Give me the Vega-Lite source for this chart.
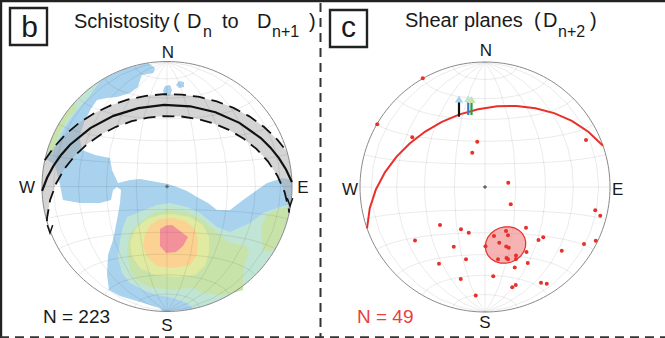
{
"$schema":"https://vega.github.io/schema/vega-lite/v6.json",
"width":665,"height":338,"padding":0,"autosize":{"type":"none"},
"background":"white",
"config":{"view":{"stroke":null}},
"layer":[
{"data":{"values":[
{"type":"Feature","properties":{"level":"1"},"geometry":{"type":"Polygon","coordinates":[[[-15.1,98.9],[-34.2,94.0],[-50,86.6],[-64.3,76.6],[-76.6,64.3],[-86.6,50],[-94.0,34.2],[-97.4,22.5],[-89.6,17.2],[-85.6,1.2],[-83.2,-10.8],[-69.6,-13.2],[-53.6,-13.2],[-44.8,-10.8],[-43.2,-2.8],[-40,-0.4],[-36.8,-2.8],[-37.6,-13.2],[-40,-26.8],[-43.2,-42.8],[-47.2,-54.8],[-48,-70.8],[-46.4,-82.8],[-37.6,-87.6],[-21.6,-92.4],[-5.6,-97.2],[-3.5,-99.9],[17.4,-98.5],[34.2,-94.0],[50,-86.6],[64.3,-76.6],[76.6,-64.3],[86.6,-50],[94.0,-34.2],[98.5,-17.4],[100,0],[99.9,5.2],[92.8,6.8],[80,2.8],[72,-2.8],[60.8,-10.8],[50.4,-18.8],[40,-18.8],[32.8,-13.2],[24,-8.4],[16,-3.6],[8,-0.4],[0.8,2],[-8,3.6],[-21.6,6],[-29.6,5.2],[-39.2,2.8],[-44,13.2],[-45.6,22.8],[-57.6,25.2],[-68,29.2],[-70,40],[-66,52],[-61,62],[-56,69.2],[-48,70.8],[-40,71.6],[-29.6,74.8],[-23.2,79.6],[-21.6,85.2],[-20,89.2],[-11.2,90.8],[-9.6,94.8],[-15.1,98.9]]]}},
{"type":"Feature","properties":{"level":"1"},"geometry":{"type":"Polygon","coordinates":[[[7.2,81.2],[9.6,84.4],[13.6,83.6],[13.6,79.6],[9.6,78.8],[7.2,81.2]]]}},
{"type":"Feature","properties":{"level":"1"},"geometry":{"type":"Polygon","coordinates":[[[-3.2,76.4],[-1.6,80.4],[2.4,81.2],[4,77.2],[2.4,72.4],[-1.6,72.4],[-3.2,76.4]]]}},
{"type":"Feature","properties":{"level":"2"},"geometry":{"type":"Polygon","coordinates":[[[-32,-24.4],[-24,-21.2],[-8,-14.8],[2.4,-13.2],[16,-16.4],[26.4,-21.2],[40,-32.4],[50.4,-36.4],[66.4,-29.2],[76.8,-21.2],[90.4,-16.4],[99.0,-13.9],[94.0,-34.2],[86.6,-50],[76.6,-64.3],[64.3,-76.6],[50,-86.6],[34.2,-94.0],[20.8,-97.8],[16,-93.2],[4.8,-89.2],[-8,-86.8],[-19.2,-82.8],[-29.6,-77.2],[-36,-69.2],[-39.2,-56.4],[-37.6,-42.8],[-35.2,-32.4],[-32,-24.4]]]}},
{"type":"Feature","properties":{"level":"2"},"geometry":{"type":"Polygon","coordinates":[[[-53.0,84.8],[-64.3,76.6],[-76.6,64.3],[-86.6,50],[-94.0,34.2],[-97.0,24.2],[-92,23],[-89,33],[-82,47],[-73,60],[-63,71],[-53.0,84.8]]]}},
{"type":"Feature","properties":{"level":"3"},"geometry":{"type":"Polygon","coordinates":[[[-74.3,66.9],[-81.9,57.4],[-90.6,42.3],[-95.6,29.2],[-92,28],[-87,40],[-80,54],[-72,63],[-74.3,66.9]]]}},
{"type":"Feature","properties":{"level":"3"},"geometry":{"type":"Polygon","coordinates":[[[-32,-50.8],[-29.6,-37.2],[-21.6,-29.2],[-11.2,-21.2],[2.4,-18],[16,-20.4],[28.8,-26.8],[40,-36.4],[48.8,-44.4],[56,-46],[63.2,-47.6],[65.6,-53.2],[62.4,-60.4],[60.8,-70.8],[60.8,-82.8],[50.4,-86],[40,-86.8],[28.8,-85.2],[20.8,-81.2],[2.4,-82.8],[-13.6,-80.4],[-24,-75.6],[-29.6,-66.8],[-32,-50.8]]]}},
{"type":"Feature","properties":{"level":"3"},"geometry":{"type":"Polygon","coordinates":[[[76.8,-50.8],[75.2,-34.8],[79.2,-22.8],[88.8,-18],[98.6,-16.5],[94,-34.2],[88.3,-46.9],[82.4,-52.4],[76.8,-50.8]]]}},
{"type":"Feature","properties":{"level":"4"},"geometry":{"type":"Polygon","coordinates":[[[-29.6,-44.4],[-24.8,-33.2],[-16,-26],[-5.6,-22.8],[4,-22],[18.4,-24.4],[28.8,-30.8],[33.6,-40.4],[33.6,-52.4],[30.4,-63.6],[22.4,-70.8],[6.4,-72.4],[-9.6,-70.8],[-21.6,-65.2],[-28,-55.6],[-29.6,-44.4]]]}},
{"type":"Feature","properties":{"level":"5"},"geometry":{"type":"Polygon","coordinates":[[[-17.6,-38.8],[-13.6,-30.8],[-5.6,-26],[4,-25.2],[14.4,-27.6],[22.4,-34],[24.8,-42.8],[24,-54.8],[18.4,-62.8],[4.8,-65.2],[-8,-63.6],[-16,-56.4],[-19.2,-46.8],[-17.6,-38.8]]]}},
{"type":"Feature","properties":{"level":"6"},"geometry":{"type":"Polygon","coordinates":[[[-5.6,-34],[-0.8,-31.2],[4,-30.8],[16.8,-40.4],[12.8,-47.6],[7.2,-52.4],[-0.8,-53.2],[-5.6,-47.6],[-5.6,-34]]]}}
]},
"mark":{"type":"geoshape","strokeWidth":0},
"projection":{"type":"identity","scale":1.25,"translate":[167,186.5],"reflectY":true},
"encoding":{"color":{"field":"properties.level","type":"nominal","scale":{"domain":["1","2","3","4","5","6"],"range":["#a9d2ee","#c0e5d4","#c8e3a9","#e0eaa0","#fbd291","#f3919b"]},"legend":null}}},

{"data":{"values":[{"type":"Feature","properties":{},"geometry":{"type":"Polygon","coordinates":[[[-120,8],[-110,8],[-100,8],[-90,8],[-80,8],[-70,8],[-60,8],[-50,8],[-40,8],[-30,8],[-20,8],[-10,8],[0,8],[10,8],[20,8],[30,8],[40,8],[50,8],[60,8],[70,8],[80,8],[90,8],[100,8],[110,8],[120,8],[120,-8],[110,-8],[100,-8],[90,-8],[80,-8],[70,-8],[60,-8],[50,-8],[40,-8],[30,-8],[20,-8],[10,-8],[0,-8],[-10,-8],[-20,-8],[-30,-8],[-40,-8],[-50,-8],[-60,-8],[-70,-8],[-80,-8],[-90,-8],[-100,-8],[-110,-8],[-120,-8],[-120,8]]]}}]},
"mark":{"type":"geoshape","fill":"#aaaaaa","fillOpacity":0.5,"strokeWidth":0},
"projection":{"type":"azimuthalEqualArea","scale":88.39,"translate":[167,186.5],"clipAngle":90,"rotate":[0,55,2]}},

{"data":{"graticule":{"stepMinor":[20,15],"extentMinor":[[-180,-89.999],[180,89.999]]}},
"mark":{"type":"geoshape","filled":false,"stroke":"#000000","strokeOpacity":0.12,"strokeWidth":0.7},
"projection":{"type":"azimuthalEqualArea","scale":88.39,"translate":[167,186.5],"clipAngle":90}},

{"data":{"sphere":true},
"mark":{"type":"geoshape","filled":false,"stroke":"#8a8a8a","strokeWidth":1},
"projection":{"type":"azimuthalEqualArea","scale":88.39,"translate":[167,186.5],"clipAngle":90}},

{"data":{"values":[{"type":"Feature","properties":{},"geometry":{"type":"LineString","coordinates":[[-120,0],[-90,0],[-60,0],[-30,0],[0,0],[30,0],[60,0],[90,0],[120,0]]}}]},
"mark":{"type":"geoshape","filled":false,"stroke":"#111111","strokeWidth":2.2},
"projection":{"type":"azimuthalEqualArea","scale":88.39,"translate":[167,186.5],"clipAngle":90,"rotate":[0,55,2]}},

{"data":{"values":[
{"type":"Feature","properties":{},"geometry":{"type":"LineString","coordinates":[[-120,8],[-110,8],[-100,8],[-90,8],[-80,8],[-70,8],[-60,8],[-50,8],[-40,8],[-30,8],[-20,8],[-10,8],[0,8],[10,8],[20,8],[30,8],[40,8],[50,8],[60,8],[70,8],[80,8],[90,8],[100,8],[110,8],[120,8]]}},
{"type":"Feature","properties":{},"geometry":{"type":"LineString","coordinates":[[-120,-8],[-110,-8],[-100,-8],[-90,-8],[-80,-8],[-70,-8],[-60,-8],[-50,-8],[-40,-8],[-30,-8],[-20,-8],[-10,-8],[0,-8],[10,-8],[20,-8],[30,-8],[40,-8],[50,-8],[60,-8],[70,-8],[80,-8],[90,-8],[100,-8],[110,-8],[120,-8]]}}
]},
"mark":{"type":"geoshape","filled":false,"stroke":"#111111","strokeWidth":1.8,"strokeDash":[12,7]},
"projection":{"type":"azimuthalEqualArea","scale":88.39,"translate":[167,186.5],"clipAngle":90,"rotate":[0,55,2]}},

{"data":{"values":[{"u":-93.6,"v":-34},{"u":98.4,"v":-12.4}]},
"mark":{"type":"point","shape":"M-0.7,-1L0,1L0.7,-1","filled":false,"stroke":"#111111","strokeWidth":1.5,"size":60,"opacity":1},
"projection":{"type":"identity","scale":1.25,"translate":[167,186.5],"reflectY":true},
"encoding":{"longitude":{"field":"u","type":"quantitative"},"latitude":{"field":"v","type":"quantitative"}}},

{"data":{"values":[{"u":0,"v":0},{"u":254.4,"v":-0.4}]},
"mark":{"type":"point","shape":"cross","filled":true,"color":"#666666","size":14,"opacity":1},
"projection":{"type":"identity","scale":1.25,"translate":[167,186.5],"reflectY":true},
"encoding":{"longitude":{"field":"u","type":"quantitative"},"latitude":{"field":"v","type":"quantitative"}}},

{"data":{"graticule":{"stepMinor":[20,15],"extentMinor":[[-180,-89.999],[180,89.999]]}},
"mark":{"type":"geoshape","filled":false,"stroke":"#000000","strokeOpacity":0.12,"strokeWidth":0.7},
"projection":{"type":"azimuthalEqualArea","scale":88.39,"translate":[485,187],"clipAngle":90}},

{"data":{"sphere":true},
"mark":{"type":"geoshape","filled":false,"stroke":"#8a8a8a","strokeWidth":1},
"projection":{"type":"azimuthalEqualArea","scale":88.39,"translate":[485,187],"clipAngle":90}},

{"data":{"values":[{"type":"Feature","properties":{},"geometry":{"type":"Polygon","coordinates":[[[-180,-77.5],[-165,-77.5],[-150,-77.5],[-135,-77.5],[-120,-77.5],[-105,-77.5],[-90,-77.5],[-75,-77.5],[-60,-77.5],[-45,-77.5],[-30,-77.5],[-15,-77.5],[0,-77.5],[15,-77.5],[30,-77.5],[45,-77.5],[60,-77.5],[75,-77.5],[90,-77.5],[105,-77.5],[120,-77.5],[135,-77.5],[150,-77.5],[165,-77.5],[180,-77.5]]]}}]},
"mark":{"type":"geoshape","fill":"#f08a8a","fillOpacity":0.65,"stroke":"#e8302b","strokeWidth":1.2},
"projection":{"type":"azimuthalEqualArea","scale":88.39,"translate":[485,187],"clipAngle":90,"rotate":[0,49,19.5]}},

{"data":{"values":[{"type":"Feature","properties":{},"geometry":{"type":"LineString","coordinates":[[157.4,-47.7],[-90,-19.3],[-22.6,47.7],[90,19.3],[157.4,-47.7]]}}]},
"mark":{"type":"geoshape","filled":false,"stroke":"#e8302b","strokeWidth":2},
"projection":{"type":"azimuthalEqualArea","scale":88.39,"translate":[485,187],"clipAngle":90}},

{"data":{"values":[
{"u":-49.8,"v":87.0},{"u":-86.2,"v":50.2},{"u":-58.2,"v":39.8},{"u":-6.2,"v":36.2},{"u":-10.2,"v":27.4},{"u":80.8,"v":37.6},{"u":18.6,"v":3.4},{"u":20.6,"v":-13.8},{"u":88.2,"v":-18.6},{"u":92.2,"v":-23.0},
{"u":-36.0,"v":-30.4},{"u":-19.2,"v":-33.8},{"u":-13.0,"v":-36.6},{"u":32.8,"v":-32.6},{"u":-56.0,"v":-42.8},{"u":16.8,"v":-35.2},{"u":18.4,"v":-38.6},{"u":7.2,"v":-39.2},{"u":-25.0,"v":-47.8},{"u":0.4,"v":-47.4},
{"u":11.4,"v":-44.6},{"u":17.0,"v":-47.6},{"u":19.0,"v":-48.6},{"u":42.8,"v":-42.4},{"u":46.6,"v":-40.2},{"u":79.2,"v":-45.6},{"u":88.6,"v":-43.0},{"u":24.8,"v":-54.8},{"u":24.8,"v":-57.6},{"u":17.2,"v":-56.8},
{"u":18.4,"v":-57.8},{"u":10.4,"v":-57.8},{"u":33.2,"v":-52.0},{"u":34.2,"v":-60.8},{"u":-36.8,"v":-61.4},{"u":-15.2,"v":-57.8},{"u":23.8,"v":-64.4},{"u":61.4,"v":-51.0},{"u":-19.4,"v":-73.6},{"u":6.6,"v":-71.4},
{"u":24.6,"v":-78.4},{"u":21.8,"v":-80.2},{"u":44.8,"v":-76.6},{"u":49.4,"v":-77.4},{"u":-7.4,"v":-86.8}
]},
"mark":{"type":"point","shape":"circle","filled":true,"color":"#e8302b","size":16,"opacity":1},
"projection":{"type":"identity","scale":1.25,"translate":[485,187],"reflectY":true},
"encoding":{"longitude":{"field":"u","type":"quantitative"},"latitude":{"field":"v","type":"quantitative"}}},

{"data":{"values":[
{"type":"Feature","properties":{"k":"green"},"geometry":{"type":"LineString","coordinates":[[-10.8,57.6],[-10.8,69.5]]}},
{"type":"Feature","properties":{"k":"blue"},"geometry":{"type":"LineString","coordinates":[[-13.4,57.6],[-13.4,70]]}},
{"type":"Feature","properties":{"k":"black"},"geometry":{"type":"LineString","coordinates":[[-20.8,56.2],[-20.8,69.5]]}}
]},
"mark":{"type":"geoshape","filled":false,"strokeWidth":2.2},
"projection":{"type":"identity","scale":1.25,"translate":[485,187],"reflectY":true},
"encoding":{"stroke":{"field":"properties.k","type":"nominal","scale":{"domain":["black","blue","green"],"range":["#111111","#3d78c4","#2f9a45"]},"legend":null}}},

{"data":{"values":[{"k":"green","u":-10.8,"v":70.0},{"k":"blue","u":-13.4,"v":70.8},{"k":"black","u":-20.8,"v":70.4}]},
"mark":{"type":"point","shape":"triangle-up","filled":true,"size":70,"opacity":1},
"projection":{"type":"identity","scale":1.25,"translate":[485,187],"reflectY":true},
"encoding":{"longitude":{"field":"u","type":"quantitative"},"latitude":{"field":"v","type":"quantitative"},
"color":{"field":"k","type":"nominal","scale":{"domain":["black","blue","green"],"range":["#111111","#3d78c4","#2f9a45"]},"legend":null}}},

{"data":{"values":[{"u":-74.4,"v":126.8,"t":"Schistosity"},{"u":4.8,"v":126.8,"t":"("},{"u":16,"v":126.8,"t":"D"},{"u":44,"v":126.8,"t":"to"},{"u":72,"v":126.8,"t":"D"},{"u":113.6,"v":126.8,"t":")"},{"u":190.4,"v":127.4,"t":"Shear planes"},{"u":293.6,"v":127.4,"t":"("},{"u":300.8,"v":127.4,"t":"D"},{"u":338.4,"v":127.4,"t":")"}]},
"mark":{"type":"text","font":"Liberation Sans","fontSize":20,"align":"left","baseline":"alphabetic","color":"#1a1a1a"},
"projection":{"type":"identity","scale":1.25,"translate":[167,186.5],"reflectY":true},
"encoding":{"longitude":{"field":"u","type":"quantitative"},"latitude":{"field":"v","type":"quantitative"},"text":{"field":"t"}}},

{"data":{"values":[{"u":28.8,"v":119.6,"t":"n"},{"u":84,"v":119.6,"t":"n+1"},{"u":312.8,"v":119.4,"t":"n+2"}]},
"mark":{"type":"text","font":"Liberation Sans","fontSize":16,"align":"left","baseline":"alphabetic","color":"#1a1a1a"},
"projection":{"type":"identity","scale":1.25,"translate":[167,186.5],"reflectY":true},
"encoding":{"longitude":{"field":"u","type":"quantitative"},"latitude":{"field":"v","type":"quantitative"},"text":{"field":"t"}}},

{"data":{"values":[{"u":0.8,"v":103.2,"t":"N"},{"u":-112,"v":-5.2,"t":"W"},{"u":108.8,"v":-5.2,"t":"E"},{"u":0,"v":-115.6,"t":"S"},{"u":255.2,"v":104.4,"t":"N"},{"u":146.4,"v":-6.8,"t":"W"},{"u":360.6,"v":-6.8,"t":"E"},{"u":254.4,"v":-112.8,"t":"S"}]},
"mark":{"type":"text","font":"Liberation Sans","fontSize":17,"align":"center","baseline":"alphabetic","color":"#1a1a1a"},
"projection":{"type":"identity","scale":1.25,"translate":[167,186.5],"reflectY":true},
"encoding":{"longitude":{"field":"u","type":"quantitative"},"latitude":{"field":"v","type":"quantitative"},"text":{"field":"t"}}},

{"data":{"values":[{"u":-99.2,"v":-109.2,"t":"N = 223"}]},
"mark":{"type":"text","font":"Liberation Sans","fontSize":19,"align":"left","baseline":"alphabetic","color":"#1a1a1a"},
"projection":{"type":"identity","scale":1.25,"translate":[167,186.5],"reflectY":true},
"encoding":{"longitude":{"field":"u","type":"quantitative"},"latitude":{"field":"v","type":"quantitative"},"text":{"field":"t"}}},

{"data":{"values":[{"u":152,"v":-109.2,"t":"N = 49"}]},
"mark":{"type":"text","font":"Liberation Sans","fontSize":19,"align":"left","baseline":"alphabetic","color":"#e8413c"},
"projection":{"type":"identity","scale":1.25,"translate":[167,186.5],"reflectY":true},
"encoding":{"longitude":{"field":"u","type":"quantitative"},"latitude":{"field":"v","type":"quantitative"},"text":{"field":"t"}}},

{"data":{"values":[{"u":-110,"v":119.6,"t":"b"},{"u":145.2,"v":119.6,"t":"c"}]},
"mark":{"type":"text","font":"Liberation Sans","fontSize":30,"align":"center","baseline":"alphabetic","color":"#1a1a1a"},
"projection":{"type":"identity","scale":1.25,"translate":[167,186.5],"reflectY":true},
"encoding":{"longitude":{"field":"u","type":"quantitative"},"latitude":{"field":"v","type":"quantitative"},"text":{"field":"t"}}},

{"data":{"values":[
{"type":"Feature","properties":{},"geometry":{"type":"Polygon","coordinates":[[[-125.6,142.8],[-96,142.8],[-96,113.2],[-125.6,113.2],[-125.6,142.8]]]}},
{"type":"Feature","properties":{},"geometry":{"type":"Polygon","coordinates":[[[130.4,141.2],[160,141.2],[160,111.6],[130.4,111.6],[130.4,141.2]]]}},
{"type":"Feature","properties":{},"geometry":{"type":"LineString","coordinates":[[-133.6,148.4],[398.4,148.4]]}},
{"type":"Feature","properties":{},"geometry":{"type":"LineString","coordinates":[[-132.8,150],[-132.8,-122]]}}
]},
"mark":{"type":"geoshape","filled":false,"stroke":"#222222","strokeWidth":2.4},
"projection":{"type":"identity","scale":1.25,"translate":[167,186.5],"reflectY":true}},

{"data":{"values":[
{"type":"Feature","properties":{},"geometry":{"type":"LineString","coordinates":[[122.8,146.8],[122.8,-121]]}},
{"type":"Feature","properties":{},"geometry":{"type":"LineString","coordinates":[[-133.6,-120.6],[398.4,-120.6]]}}
]},
"mark":{"type":"geoshape","filled":false,"stroke":"#333333","strokeWidth":2,"strokeDash":[9,6]},
"projection":{"type":"identity","scale":1.25,"translate":[167,186.5],"reflectY":true}}
]
}
